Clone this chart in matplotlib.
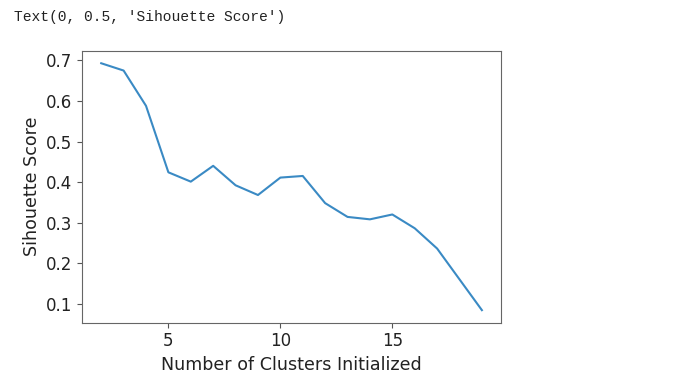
import matplotlib
matplotlib.use("Agg")
import matplotlib.pyplot as plt

# silhouette score per number of clusters
n_clusters = list(range(2, 20))
scores = [0.693, 0.675, 0.588, 0.424, 0.401, 0.440, 0.392, 0.368, 0.411,
          0.415, 0.348, 0.314, 0.308, 0.320, 0.286, 0.236, 0.160, 0.084]
x_ticks = [5, 10, 15]

fig = plt.figure(figsize=(6.82, 3.86), dpi=100)
ax = fig.add_axes([0.1205, 0.1645, 0.614, 0.7036])
ax.plot(n_clusters, scores, color="#3a8ac4", linewidth=1.5)
ax.set_xticks(x_ticks)
ax.set_xlabel("Number of Clusters Initialized", fontsize=12.6, color="#222222")
ax.set_ylabel("Sihouette Score", fontsize=12.6, color="#222222")
ax.tick_params(labelsize=12, labelcolor="#222222", color="#555555")
for s in ax.spines.values():
    s.set_color("#666666")

# notebook output line
fig.text(0.02, 0.955, "Text(0, 0.5, 'Sihouette Score')", family="Liberation Mono",
         fontsize=10.5, va="center", ha="left", color="#222222")

fig.savefig("out.png", dpi=100)
